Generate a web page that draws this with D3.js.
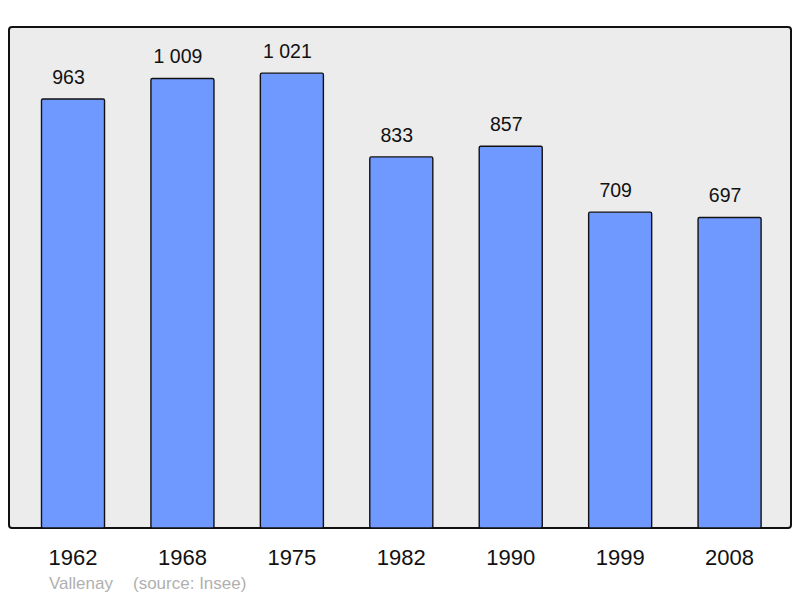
<!DOCTYPE html>
<html>
<head>
<meta charset="utf-8">
<script src="https://cdn.jsdelivr.net/npm/d3@7"></script>
<style>
  body { margin: 0; background: #fff; }
  text { font-family: "Liberation Sans", Arial, sans-serif; }
</style>
</head>
<body>
<div id="chart"></div>
<script>
  // population by census year
  const years = ["1962", "1968", "1975", "1982", "1990", "1999", "2008"];
  const population = [963, 1009, 1021, 833, 857, 709, 697];
  const commune = "Vallenay";
  const source = "(source: Insee)";

  const width = 800, height = 598;

  const svg = d3.select("#chart")
    .append("svg")
    .attr("width", width)
    .attr("height", height);

  // grey panel behind the bars
  svg.append("rect")
    .attr("x", 9)
    .attr("y", 27)
    .attr("width", 782)
    .attr("height", 501)
    .attr("rx", 3)
    .attr("fill", "#ececec")
    .attr("stroke", "#111")
    .attr("stroke-width", 2);

  const x = d3.scaleBand()
    .domain(years)
    .range([18.3, 784.3])
    .paddingInner(0.424)
    .paddingOuter(0.212);

  const y = d3.scaleLinear()
    .domain([0, 1124.6])
    .range([528, 27]);

  const data = years.map((yr, i) => ({ year: yr, value: population[i] }));

  // bars
  svg.selectAll(".bar")
    .data(data)
    .enter()
    .append("rect")
    .attr("class", "bar")
    .attr("x", d => x(d.year))
    .attr("y", d => y(d.value))
    .attr("width", x.bandwidth())
    .attr("height", d => y(0) - y(d.value))
    .attr("rx", 1.5)
    .attr("fill", "#7099ff")
    .attr("stroke", "#111")
    .attr("stroke-width", 1.4);

  // value labels, french thousands separator
  const fmt = v => v >= 1000 ? Math.floor(v / 1000) + " " + String(v % 1000).padStart(3, "0") : String(v);

  svg.selectAll(".val")
    .data(data)
    .enter()
    .append("text")
    .attr("class", "val")
    .attr("x", d => x(d.year) + x.bandwidth() / 2 - 4.5)
    .attr("y", d => y(d.value) - 15)
    .attr("text-anchor", "middle")
    .attr("font-size", 19.5)
    .attr("fill", "#111")
    .text(d => fmt(d.value));

  // year axis
  const xAxis = svg.append("g")
    .attr("transform", "translate(0,528)")
    .call(d3.axisBottom(x).tickSize(0).tickPadding(0));
  xAxis.select(".domain").remove();
  xAxis.selectAll("text")
    .attr("y", 36.5)
    .attr("dy", 0)
    .attr("font-size", 22)
    .attr("font-family", "\"Liberation Sans\", Arial, sans-serif")
    .attr("fill", "#111");

  // footer
  svg.append("text")
    .attr("x", 49)
    .attr("y", 589)
    .attr("font-size", 17)
    .attr("fill", "#b0b0b0")
    .text(commune);

  svg.append("text")
    .attr("x", 133)
    .attr("y", 589)
    .attr("font-size", 17)
    .attr("fill", "#b0b0b0")
    .text(source);
</script>
</body>
</html>
